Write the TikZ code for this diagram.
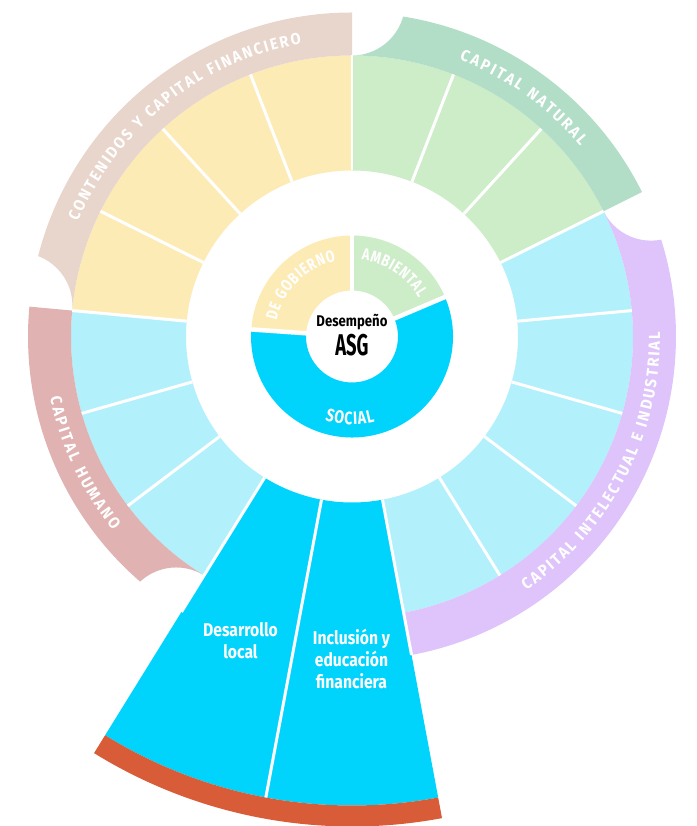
\documentclass[tikz,border=0pt]{standalone}
\usepackage{fontspec}
\usepackage{graphicx}
\setmainfont{Fira Sans}
\newfontfamily\condf[FakeStretch=0.85]{Fira Sans}
\newfontfamily\innf[FakeStretch=0.78]{Fira Sans}
\newfontfamily\bandf[FakeStretch=0.92]{Fira Sans}
\usetikzlibrary{decorations.text}
\definecolor{cyel}{HTML}{FDEBB6}
\definecolor{cbeige}{HTML}{E8D5CB}
\definecolor{cgrn}{HTML}{CDECC8}
\definecolor{cgrnband}{HTML}{B2DEC8}
\definecolor{clb}{HTML}{B2F0FC}
\definecolor{cpurp}{HTML}{DEC4FA}
\definecolor{cpink}{HTML}{E0B2B2}
\definecolor{cblue}{HTML}{00D4FC}
\definecolor{corange}{HTML}{D85C38}
\newcommand\rsec[5]{\fill[#1] (#2:#4) arc[start angle=#2,end angle=#3,radius=#4] -- (#3:#5) arc[start angle=#3,end angle=#2,radius=#5] -- cycle;}
\newcommand\bandbite[3]{%
  \begin{scope}[even odd rule]
    \clip (-400pt,-520pt) rectangle (400pt,400pt) (#3:334pt) circle[radius=53pt];
    \rsec{#1}{#2}{#3}{281pt}{324pt}
  \end{scope}}
\newcommand\arctext[5]{%
  \path[decorate,decoration={text along path,text={|#1|#2},text align={fit to path}}] (#3:#5) arc[start angle=#3,end angle=#4,radius=#5];}
\tikzset{
  seglbl/.style={font=\condf\bfseries\fontsize{18.5}{22}\selectfont, text=white, align=center, inner sep=0pt},
  sep/.style={white, line width=3pt},
  innersep/.style={white, line width=4.5pt}
}
\def\bandfmt{\color{white}\bandf\bfseries\fontsize{16}{16}\selectfont}
\def\innerfmt{\color{white}\innf\bfseries\fontsize{16.5}{16.5}\selectfont}
\def\st{21.17647}
\begin{document}
\begin{tikzpicture}[x=1pt,y=1pt]
\useasboundingbox (-352pt,-489.5pt) rectangle (344pt,336.5pt);
% outer segments
\foreach \k in {0,1,2}{\pgfmathsetmacro\aa{90-(\k+1)*\st}\pgfmathsetmacro\bb{90-\k*\st}\rsec{cgrn}{\aa}{\bb}{166pt}{281pt}}
\foreach \k in {3,...,7}{\pgfmathsetmacro\aa{90-(\k+1)*\st}\pgfmathsetmacro\bb{90-\k*\st}\rsec{clb}{\aa}{\bb}{166pt}{281pt}}
\foreach \k in {8,9}{\pgfmathsetmacro\aa{90-(\k+1)*\st}\pgfmathsetmacro\bb{90-\k*\st}\rsec{cblue}{\aa}{\bb}{166pt}{469pt}}
\foreach \k in {10,11,12}{\pgfmathsetmacro\aa{90-(\k+1)*\st}\pgfmathsetmacro\bb{90-\k*\st}\rsec{clb}{\aa}{\bb}{166pt}{281pt}}
\foreach \k in {13,...,16}{\pgfmathsetmacro\aa{90-(\k+1)*\st}\pgfmathsetmacro\bb{90-\k*\st}\rsec{cyel}{\aa}{\bb}{166pt}{281pt}}
% bands
\bandbite{cgrnband}{26.471}{90}
\bandbite{cpurp}{-79.412}{26.471}
\bandbite{cpink}{-185.294}{-121.765}
\bandbite{cbeige}{-270}{-185.294}
\rsec{corange}{-121.765}{-79.412}{469pt}{490pt}
% separators
\draw[white, line width=2pt] (90:166pt) -- (90:281pt);
\foreach \k in {1,...,7,11,12,13,14,15,16}{\draw[sep] ({90-\k*\st}:166pt) -- ({90-\k*\st}:281pt);}
\draw[sep] ({90-8*\st}:166pt) -- ({90-8*\st}:324pt);
\draw[sep] ({90-10*\st}:166pt) -- ({90-10*\st}:324pt);
\draw[sep] ({90-9*\st}:166pt) -- ({90-9*\st}:469pt);
% inner ring
\rsec{cyel}{90}{176}{46pt}{101pt}
\rsec{cgrn}{23}{90}{46pt}{101pt}
\rsec{cblue}{-184}{23}{46pt}{101pt}
\draw[innersep] (90:40pt) -- (90:105pt);
\draw[innersep] (23:40pt) -- (23:105pt);
\draw[innersep] (176:40pt) -- (176:105pt);
% band labels
\arctext{\bandfmt}{CONTENIDOS Y CAPITAL FINANCIERO}{157.3}{99.8}{297pt}
\arctext{\bandfmt}{CAPITAL NATURAL}{68.8}{39.8}{297pt}
\arctext{\bandfmt}{CAPITAL INTELECTUAL E INDUSTRIAL}{-55.5}{0.8}{308pt}
\arctext{\bandfmt}{CAPITAL HUMANO}{191.4}{219.1}{308pt}
% inner labels
\arctext{\innerfmt}{DE GOBIERNO}{168}{102}{77pt}
\arctext{\innerfmt}{AMBIENTAL}{83}{30}{77pt}
\arctext{\color{white}\innf\bfseries\fontsize{18}{18}\selectfont}{SOCIAL}{252}{285}{88pt}
% centre
\node[font=\condf\bfseries\fontsize{15.5}{15.5}\selectfont, inner sep=0pt] (des) at (0,14.5) {Desempeño};
\node[font=\condf\bfseries\fontsize{30}{30}\selectfont, inner sep=0pt] (asg) at (0,-9) {\scalebox{0.72}[1]{ASG}};
% expanded segment labels
\node[seglbl] (dl) at (-111.5,-304.5) {Desarrollo\\local};
\node[seglbl] (inc) at (-0.5,-322.5) {Inclusión y\\educación\\financiera};
\end{tikzpicture}
\end{document}
